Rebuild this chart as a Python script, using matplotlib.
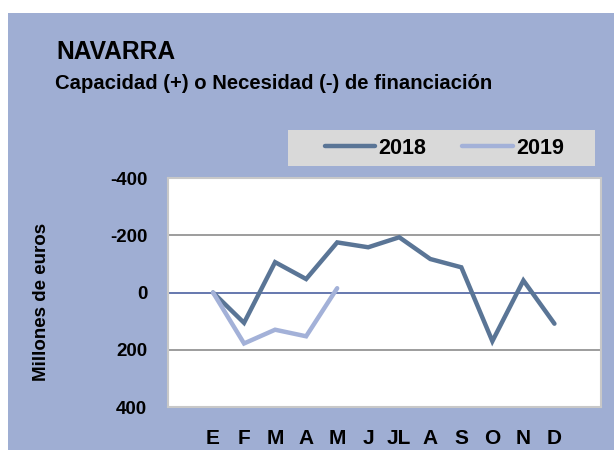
import numpy as np
import matplotlib
matplotlib.use('Agg')
from matplotlib import pyplot as plt
from matplotlib.patches import Rectangle

meses = ['E', 'F', 'M', 'A', 'M', 'J', 'JL', 'A', 'S', 'O', 'N', 'D']
v2018 = [0, 106, -106, -47, -175, -158, -193, -117, -88, 170, -42, 109]
v2019 = [0, 178, 130, 153, -15]
yticks = [-400, -200, 0, 200, 400]

fondo = '#9FAED3'
c2018 = '#5A7596'
c2019 = '#A3B1D8'

plt.rcParams['font.family'] = 'Liberation Sans'
plt.rcParams['font.weight'] = 'bold'

W, H = 614, 450
fig = plt.figure(figsize=(W / 100, H / 100), dpi=100, facecolor='white')
# fondo del gráfico
fig.patches.append(Rectangle((8 / W, 0), 1, 1 - 13 / H, transform=fig.transFigure,
                             facecolor=fondo, edgecolor='none', zorder=-10))
# caja de la leyenda
fig.patches.append(Rectangle((288 / W, 1 - 166 / H), 307 / W, 36 / H, transform=fig.transFigure,
                             facecolor='#D9D9D9', edgecolor='none', zorder=-5))

fig.text(56 / W, 1 - 59 / H, 'NAVARRA', fontsize=17.7, fontweight='bold', va='baseline')
fig.text(55 / W, 1 - 89 / H, 'Capacidad (+) o Necesidad (-) de financiación',
         fontsize=14.6, fontweight='bold', va='baseline')

ax = fig.add_axes([168 / W, 1 - 407 / H, 433 / W, 229 / H])
ax.set_facecolor('white')
x = np.arange(len(meses))
ax.plot(x, v2018, color=c2018, lw=3.2, solid_capstyle='round', solid_joinstyle='miter', label='2018', zorder=3)
ax.plot(x[:len(v2019)], v2019, color=c2019, lw=3.2, solid_capstyle='round', solid_joinstyle='miter', label='2019', zorder=3)

ax.set_ylim(400, -400)
ax.set_xlim(-1.45, 12.5)
ax.set_yticks(yticks)
ax.set_yticklabels([str(v) for v in yticks], fontsize=13.5, fontweight='bold')
ax.set_xticks(x)
ax.set_xticklabels(meses, fontsize=15, fontweight='bold')
ax.tick_params(length=0)
ax.tick_params(axis='y', pad=15)
ax.tick_params(axis='x', pad=16)
for v in (-200, 200):
    ax.axhline(v, color='#8C8C8C', lw=1.2, zorder=1)
ax.axhline(0, color='#3C5499', lw=1.1, zorder=2)
for s in ax.spines.values():
    s.set_color('#C8C8C8')
    s.set_linewidth(1.5)

ax.set_ylabel('Millones de euros', fontsize=13.5, fontweight='bold')
ax.yaxis.set_label_coords(-0.2725, 0.4585)

fig.legend(loc='center', ncol=2, bbox_to_anchor=(444.5 / W, 1 - 148 / H),
           frameon=False, handlelength=2.33, handletextpad=0.15, columnspacing=1.67,
           prop={'weight': 'bold', 'size': 15.5})

fig.savefig('out.png', dpi=100, facecolor=fig.get_facecolor())
